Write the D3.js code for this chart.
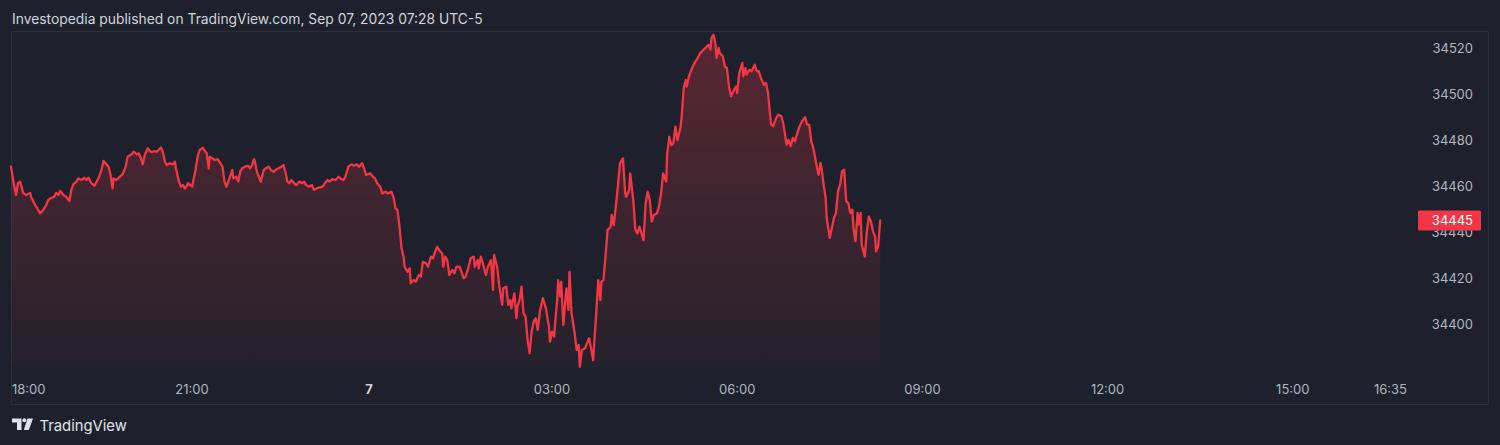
<!DOCTYPE html>
<html>
<head>
<meta charset="utf-8">
<script src="https://cdn.jsdelivr.net/npm/d3@7"></script>
<style>
  html, body { margin: 0; padding: 0; background: #1e212b; }
  svg { display: block; }
  text { font-family: Inter, "Noto Sans", "DejaVu Sans", sans-serif; }
</style>
</head>
<body>
<svg id="chart" width="1500" height="445"></svg>
<script>
// ---------------- DATA ----------------
// Minutes after the 18:00 (Sep 6, 2023) session open, and the price at that time.
const minutesSinceOpen = [
  0,3,5,7,9,10,12,15,19,20,24,27,29,32,35,37,40,43,45,47,49,52,55,58,60,62,65,67,70,73,75,77,80,83,87,90,92,95,97,99,101,102,105,108,111,114,116,120,122,125,127,129,131,133,136,138,140,143,145,149,151,153,155,158,161,163,164,167,169,171,173,175,
  176,180,183,186,188,191,193,195,197,198,201,203,206,209,211,213,215,218,221,222,225,227,229,231,234,237,239,241,243,244,246,248,250,253,255,258,260,263,265,268,271,273,275,277,279,281,284,286,289,292,294,296,299,302,304,307,309,313,315,318,320,323,326,329,331,334,336,339,342,345,348,350,353,355,
  357,361,364,366,368,371,373,376,379,382,384,386,388,390,392,394,395,398,400,401,404,406,409,411,413,416,418,421,423,425,427,429,432,433,435,437,439,442,444,446,449,451,453,455,458,460,463,464,467,468,470,472,475,477,480,482,483,486,488,491,492,495,497,499,500,503,505,506,508,510,512,514,516,518,520,522,524,526,528,
  531,534,537,538,540,542,545,546,548,549,551,553,554,556,557,559,562,564,566,567,569,572,574,576,578,580,581,583,585,587,588,590,592,594,597,598,600,602,604,606,609,611,612,615,616,619,621,623,625,627,629,631,633,635,637,639,642,644,646,648,651,652,654,656,658,660,662,665,666,668,670,671,673,676,679,681,684,687,
  689,692,694,695,697,699,700,702,703,706,708,710,712,714,717,719,720,722,725,726,728,729,732,734,737,739,741,743,746,748,750,751,753,755,758,760,763,765,767,768,770,772,774,776,778,780,783,786,788,790,792,794,797,799,801,802,804,806,807,810,812,814,816,818,820,822,824,826,828,830,832,833,835,837,838,840,841,844,846,848,850,852,854,855,857,859
];
const prices = [
  34468.4,34460.4,34456.1,34461.3,34461.9,34460.4,34457.0,34456.1,34457.0,34455.3,34451.7,34449.6,34448.1,34449.6,34451.7,34453.9,34454.8,34455.3,34457.0,34456.1,34457.8,34456.1,34455.3,34453.5,34458.3,34460.7,34461.9,34463.3,34462.6,34463.6,34462.6,34463.6,34461.2,34460.1,34463.3,34467.0,34470.9,34469.4,34468.4,34464.8,34459.0,34463.3,34462.6,34464.0,34465.1,34468.4,34472.7,34473.8,34474.9,34473.8,34474.2,34472.3,34469.4,34473.5,34476.4,34475.2,34474.7,34475.2,34474.9,34476.7,34474.9,34470.6,34469.1,34469.9,34469.4,34470.6,34467.7,34461.9,34459.7,34460.4,34459.0,34460.1,
  34461.2,34459.7,34465.5,34473.5,34475.7,34476.7,34475.2,34474.2,34467.7,34472.7,34472.0,34471.3,34471.7,34469.9,34468.4,34461.9,34459.7,34463.3,34467.0,34463.3,34464.0,34461.9,34466.2,34467.7,34468.4,34468.8,34467.7,34469.1,34471.7,34470.6,34466.2,34464.0,34461.9,34467.0,34467.7,34468.4,34467.0,34466.2,34467.0,34467.7,34468.4,34469.1,34466.2,34461.9,34461.2,34462.6,34461.2,34460.4,34461.9,34461.2,34461.9,34460.4,34459.7,34460.4,34458.3,34459.0,34459.3,34459.7,34461.2,34462.6,34461.9,34463.0,34462.6,34464.0,34463.3,34462.6,34464.0,34468.4,34469.4,34468.8,34469.4,34468.4,34469.9,34467.7,
  34464.8,34465.5,34464.0,34463.3,34461.2,34459.7,34456.8,34457.5,34456.8,34457.5,34455.3,34450.3,34449.6,34442.3,34432.9,34429.3,34424.9,34422.7,34424.2,34417.7,34419.1,34418.4,34421.3,34420.6,34427.1,34426.4,34424.9,34429.3,34428.6,34431.4,34433.6,34432.2,34430.7,34424.9,34429.3,34427.8,34421.3,34423.5,34422.0,34424.9,34424.9,34422.7,34419.9,34420.6,34424.9,34428.6,34429.3,34424.9,34427.8,34424.2,34429.3,34426.4,34421.3,34424.9,34427.8,34414.8,34430.0,34424.9,34417.0,34408.3,34415.5,34416.2,34408.3,34410.4,34406.8,34413.3,34402.5,34407.5,34410.4,34416.2,34404.7,34403.2,34393.0,34387.3,34396.7,34401.0,34402.5,34397.4,34405.3,
  34411.2,34406.8,34398.8,34392.3,34396.7,34394.5,34410.4,34419.1,34411.9,34418.4,34399.6,34410.4,34415.5,34406.1,34422.7,34404.7,34396.0,34388.7,34390.9,34381.4,34388.7,34389.4,34391.6,34393.8,34389.4,34384.3,34391.6,34404.7,34419.1,34410.4,34418.4,34419.1,34429.3,34440.9,34442.3,34447.4,34443.0,34451.0,34459.7,34469.9,34472.0,34457.5,34455.3,34458.3,34465.5,34453.9,34440.9,34439.4,34442.3,34439.4,34436.5,34452.5,34457.5,34453.9,34444.5,34447.4,34448.1,34451.0,34456.8,34465.5,34461.9,34474.2,34481.4,34477.8,34478.6,34485.8,34480.0,34485.8,34490.1,34502.5,34506.1,34503.2,34507.5,34511.2,34513.9,34515.2,34517.7,34519.1,
  34520.0,34521.4,34519.3,34524.3,34525.8,34521.4,34515.7,34520.0,34517.8,34516.4,34512.0,34511.3,34503.3,34499.0,34501.9,34503.3,34500.4,34509.1,34513.5,34507.7,34511.3,34508.4,34510.6,34509.9,34512.7,34509.9,34509.9,34507.0,34504.0,34504.8,34500.4,34495.3,34486.7,34486.0,34489.6,34491.0,34490.3,34486.7,34480.9,34478.0,34480.1,34477.3,34480.9,34479.4,34482.3,34485.2,34488.1,34489.9,34486.7,34486.7,34479.4,34476.5,34469.3,34464.9,34470.0,34467.8,34460.6,34454.8,34446.1,34437.4,34441.7,34446.1,34448.3,34457.7,34460.6,34466.4,34467.1,34453.3,34452.6,34448.3,34449.7,34441.7,34436.0,34448.3,34443.2,34448.3,34434.5,34429.4,34440.3,34446.8,34444.6,34440.3,34438.1,34431.6,34433.8,34445.0
];
const priceTicks = [34400, 34420, 34440, 34460, 34480, 34500, 34520];
const timeTickMinutes = [0, 180, 360, 540, 720, 900, 1080, 1260, 1355];
const timeTickLabels = ["18:00", "21:00", "7", "03:00", "06:00", "09:00", "12:00", "15:00", "16:35"];
const lastPrice = 34445;
const headerText = "Investopedia published on TradingView.com, Sep 07, 2023 07:28 UTC-5";

// ---------------- CHART ----------------
const sessionOpen = new Date(2023, 8, 6, 18, 0);
const toDate = m => new Date(sessionOpen.getTime() + m * 60000);
const data = minutesSinceOpen.map((m, i) => ({ t: toDate(m), v: prices[i] }));

const svg = d3.select("#chart");
const W = 1500, H = 445;
const pane = { left: 11, right: 1488, top: 31, bottom: 404, plotBottom: 370 };
const red = "#f23645";

svg.append("rect").attr("width", W).attr("height", H).attr("fill", "#1e212b");

// header
svg.append("text").attr("x", 12).attr("y", 23.5)
  .attr("font-size", 13.85).attr("fill", "#d1d4dc").text(headerText);

// border
svg.append("rect").attr("x", pane.left + 0.5).attr("y", pane.top + 0.5)
  .attr("width", pane.right - pane.left).attr("height", pane.bottom - pane.top)
  .attr("fill", "none").attr("stroke", "#2b2f3a").attr("stroke-width", 1);

// scales (TradingView bar-spaced axis, calibrated at session breakpoints)
const x = d3.scaleTime()
  .domain([0, 180, 360, 540, 1355].map(toDate))
  .range([11, 192, 369, 552, 1390.5]);
const y = d3.scaleLinear().domain([34400, 34520]).range([324, 48]);

// gradient
const defs = svg.append("defs");
const grad = defs.append("linearGradient").attr("id", "areaGrad")
  .attr("gradientUnits", "userSpaceOnUse")
  .attr("x1", 0).attr("x2", 0)
  .attr("y1", y(d3.max(prices))).attr("y2", pane.plotBottom);
grad.append("stop").attr("offset", "0%").attr("stop-color", red).attr("stop-opacity", 0.28);
grad.append("stop").attr("offset", "100%").attr("stop-color", red).attr("stop-opacity", 0.03);

const area = d3.area().x(d => x(d.t)).y0(pane.plotBottom - 4).y1(d => y(d.v));
const line = d3.line().x(d => x(d.t)).y(d => y(d.v));

svg.append("path").datum(data).attr("d", area).attr("fill", "url(#areaGrad)");
svg.append("path").datum(data).attr("d", line)
  .attr("fill", "none").attr("stroke", red).attr("stroke-width", 2.3)
  .attr("stroke-linejoin", "round").attr("stroke-linecap", "round");

// price axis
const yAxis = d3.axisRight(y).tickValues(priceTicks).tickFormat(d3.format("d")).tickSize(0);
const yg = svg.append("g").attr("transform", "translate(1473,0)").call(yAxis);
yg.select(".domain").remove();
yg.selectAll("text").attr("x", 0).attr("text-anchor", "end")
  .attr("font-size", 13).attr("fill", "#b2b5be")
  .attr("font-family", "Inter, 'Noto Sans', sans-serif");

// last price label (drawn over the 34440 tick, as in the original)
const ly = y(lastPrice);
svg.append("rect").attr("x", 1418).attr("y", ly - 10).attr("width", 63).attr("height", 20)
  .attr("rx", 1.5).attr("fill", red);
svg.append("text").attr("x", 1473).attr("y", ly).attr("dy", "0.35em")
  .attr("text-anchor", "end").attr("font-size", 13).attr("fill", "#ffffff")
  .text(d3.format("d")(lastPrice));

// time axis
const tickDates = timeTickMinutes.map(toDate);
const xAxis = d3.axisBottom(x).tickValues(tickDates)
  .tickFormat((d, i) => timeTickLabels[i]).tickSize(0);
const xg = svg.append("g").attr("transform", "translate(0,383)").call(xAxis);
xg.select(".domain").remove();
xg.selectAll("text").attr("y", 0).attr("dy", "0.35em")
  .attr("font-size", 13)
  .attr("font-family", "Inter, 'Noto Sans', sans-serif")
  .attr("font-weight", (d, i) => timeTickLabels[i].includes(":") ? 400 : 700)
  .attr("fill", (d, i) => timeTickLabels[i].includes(":") ? "#b2b5be" : "#d1d4dc");
xg.selectAll(".tick").attr("transform", function (d, i) {
  let cx = x(d);
  const w = this.getBBox().width;
  if (cx - w / 2 < 12) cx = 12 + w / 2;
  return `translate(${cx},6)`;
});

// TradingView logo
const logo = svg.append("g").attr("fill", "#e0e3eb");
logo.append("path").attr("d", "M12,418.5 H21.5 V430 H17 V422.5 H12 Z");
logo.append("circle").attr("cx", 24.3).attr("cy", 420.3).attr("r", 2);
logo.append("path").attr("d", "M27.5,418.5 H33 L28.8,430 H23.8 Z");
svg.append("text").attr("x", 39.5).attr("y", 430.5)
  .attr("font-size", 14.8).attr("fill", "#e0e3eb").text("TradingView");
</script>
</body>
</html>
